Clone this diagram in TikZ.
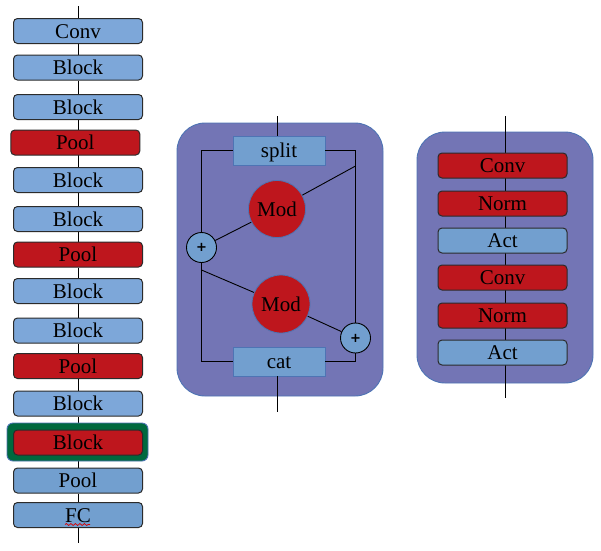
\documentclass[tikz,border=0pt]{standalone}
\usepackage{fontspec}
\setmainfont{Liberation Serif}
\newfontfamily\plusfont{DejaVu Sans}
\usetikzlibrary{backgrounds,decorations.pathmorphing}

\definecolor{blkblue}{HTML}{7DA7D9}
\definecolor{lblue}{HTML}{729FCF}
\definecolor{dred}{HTML}{BE161D}
\definecolor{panel}{HTML}{7375B5}
\definecolor{edgeblue}{HTML}{4E74B4}
\definecolor{hlgreen}{HTML}{00693E}
\definecolor{boxline}{HTML}{2B2B2B}

\tikzset{
  lbl/.style={font=\fontsize{21}{24}\selectfont, text height=14pt, text depth=0pt},
  layer/.style={lbl, draw=boxline, line width=1pt, rounded corners=4pt,
    minimum width=129pt, minimum height=25pt, inner sep=0pt},
  bluebox/.style={layer, fill=blkblue},
  redbox/.style={layer, fill=dred},
  poolbox/.style={layer, fill=lblue},
  panelbox/.style={fill=panel, draw=edgeblue, line width=0.9pt, rounded corners=28pt},
  flatbox/.style={lbl, fill=lblue, draw=edgeblue, line width=0.8pt,
    minimum width=92pt, minimum height=29pt, inner sep=0pt},
  modnode/.style={lbl, circle, fill=dred, draw=edgeblue, line width=0.8pt, inner sep=0pt},
  addnode/.style={circle, fill=lblue, draw=black, line width=0.9pt, minimum size=30pt,
    inner sep=0pt, font=\plusfont\bfseries\fontsize{13}{13}\selectfont},
  wire/.style={draw=black, line width=0.9pt},
}

\begin{document}
\begin{tikzpicture}[x=1pt,y=-1pt]
\useasboundingbox (0,0) rectangle (601,550);

% ---- backbone ----
\node[rounded corners=6pt, fill=hlgreen, draw=edgeblue, line width=0.9pt,
      minimum width=141pt, minimum height=38pt] (hl) at (77.5,442) {};
\node[bluebox] (conv) at (78,31)    {Conv};
\node[bluebox] (b1)   at (78,67.5)  {Block};
\node[bluebox] (b2)   at (78,107)   {Block};
\node[redbox]  (p1)   at (75.3,142.5) {Pool};
\node[bluebox] (b3)   at (78,180)   {Block};
\node[bluebox] (b4)   at (78,219)   {Block};
\node[redbox]  (p2)   at (78,254.5) {Pool};
\node[bluebox] (b5)   at (78,291)   {Block};
\node[bluebox] (b6)   at (78,330.5) {Block};
\node[redbox]  (p3)   at (78,366)   {Pool};
\node[bluebox] (b7)   at (78,403.5) {Block};
\node[redbox]  (b8)   at (78,442.5) {Block};
\node[poolbox] (p4)   at (78,480.5) {Pool};
\node[poolbox] (fc)   at (78,515)   {FC};
\coordinate (intop) at (78,6);
\coordinate (outbot) at (78,543);
\draw[red!85!black, line width=0.7pt, decorate,
      decoration={snake, amplitude=1pt, segment length=4.5pt}] (65,524.5) -- (90,524.5);

\begin{scope}[on background layer]
  \draw[wire] (intop) -- (conv);
  \draw[wire] (conv) -- (b1);
  \draw[wire] (b1) -- (b2);
  \draw[wire] (b2) -- (b3);
  \draw[wire] (b3) -- (b4);
  \draw[wire] (b4) -- (p2);
  \draw[wire] (p2) -- (b5);
  \draw[wire] (b5) -- (b6);
  \draw[wire] (b6) -- (p3);
  \draw[wire] (p3) -- (b7);
  \draw[wire] (b7) -- (b8);
  \draw[wire] (b8) -- (p4);
  \draw[wire] (p4) -- (fc);
  \draw[wire] (fc) -- (outbot);
\end{scope}

% ---- split / modulate / concatenate block ----
\draw[panelbox] (177,123) rectangle (383,396);
\node[flatbox] (split) at (279,150.5) {split};
\node[flatbox] (cat)   at (279,361.5) {cat};
\node[modnode, minimum size=57pt] (mod1) at (277,209) {Mod};
\node[modnode, minimum size=58pt] (mod2) at (281,304) {Mod};
\node[addnode] (add1) at (201.5,247.5) {+};
\node[addnode] (add2) at (355.5,338) {+};
\coordinate (sin)  at (277,116);
\coordinate (sout) at (277,412);
\coordinate (tap)  at (355.5,166);
\coordinate (lft)  at (201.5,270);

\draw[wire] (sin) -- (sin |- split.north);
\draw[wire] (split.west) -| (add1.north);
\draw[wire] (add1.south) |- (cat.west);
\draw[wire] (split.east) -| (add2.north);
\draw[wire] (add2.south) |- (cat.east);
\draw[wire] (tap) -- (mod1);
\draw[wire] (mod1) -- (add1);
\draw[wire] (lft) -- (mod2);
\draw[wire] (mod2) -- (add2);
\draw[wire] (sout |- cat.south) -- (sout);

% ---- conv / norm / act block ----
\draw[panelbox] (417,132) rectangle (593,383);
\coordinate (rin)  at (505,116);
\coordinate (rout) at (505,398);
\draw[wire] (rin) -- (rout);
\node[redbox]  (c1) at (502.5,165.5) {Conv};
\node[redbox]  (n1) at (502.5,203.5) {Norm};
\node[poolbox] (a1) at (502.5,240.5) {Act};
\node[redbox]  (c2) at (502.5,277.5) {Conv};
\node[redbox]  (n2) at (502.5,315.5) {Norm};
\node[poolbox] (a2) at (502.5,352.5) {Act};
\end{tikzpicture}
\end{document}
